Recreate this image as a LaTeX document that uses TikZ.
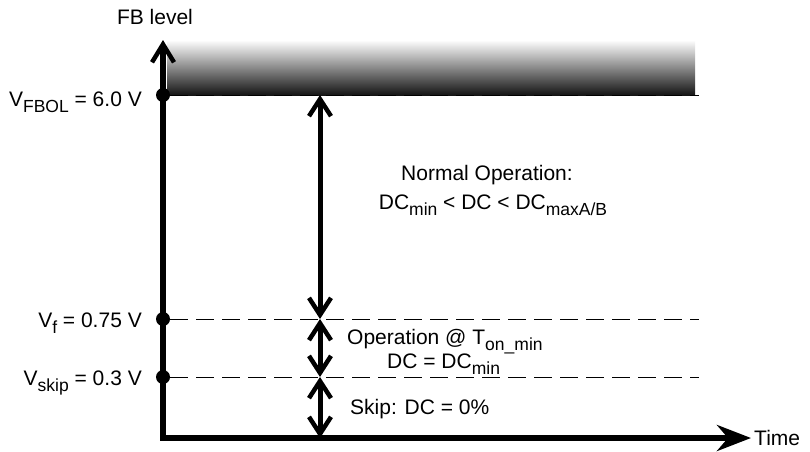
\documentclass[tikz,border=0pt]{standalone}
\usepackage{fontspec}
\setmainfont{Liberation Sans}
\usetikzlibrary{arrows.meta}
\newcommand{\sbs}[1]{\raisebox{-0.3em}{\fontsize{17.5}{17.5}\selectfont #1}}
\begin{document}
\begin{tikzpicture}[x=1pt,y=-1pt,
  lbl/.style={inner sep=0pt,font=\fontsize{21}{24}\selectfont},
  axis/.style={line width=5.5pt},
  dot/.style={circle,fill=black,inner sep=0pt,minimum size=14pt},
  level/.style={line width=1pt,dash pattern=on 18pt off 8pt},
  dbl/.style={line width=5pt,{Straight Barb[length=17pt,width=22pt,line width=4.5pt]}-{Straight Barb[length=17pt,width=22pt,line width=4.5pt]}}
]
\useasboundingbox (0,0) rectangle (810,451);
% gradient band
\shade[top color=white,bottom color=black!92] (167,40) rectangle (695,95);
% coordinates
\coordinate (o) at (163,438);
\coordinate (ytop) at (163,40);
\coordinate (xend) at (751,438);
\coordinate (e1) at (699,95);
\coordinate (e2) at (699,319);
\coordinate (e3) at (699,377);
\coordinate (a0) at (320,95);
\coordinate (a1) at (320,319);
\coordinate (a2) at (320,377);
\coordinate (a3) at (320,438);
% dashed levels
\node[dot] (d1) at (163,95) {};
\node[dot] (d2) at (163,319) {};
\node[dot] (d3) at (163,377) {};
\draw[level] (d1) -- (e1);
\draw[level] (d2) -- (e2);
\draw[level] (d3) -- (e3);
% axes
\draw[axis,-{Straight Barb[length=18pt,width=22pt,line width=4.5pt]}] (o) -- (ytop);
\draw[axis,-{Stealth[length=34pt,width=26pt,inset=11pt]},shorten <=-2.75pt] (o) -- (xend);
% double arrows
\draw[dbl] (a0) -- (a1);
\draw[dbl] (a1) -- (a2);
\draw[dbl] (a2) -- (a3);
% labels
\node[lbl,anchor=base] (fb) at (155,24) {FB level};
\node[lbl,anchor=base west] (time) at (754,445) {Time};
\node[lbl,anchor=base east] (l1) at (142,106) {V\sbs{FBOL} = 6.0 V};
\node[lbl,anchor=base east] (l2) at (142,327) {V\sbs{f} = 0.75 V};
\node[lbl,anchor=base east] (l3) at (142,385) {V\sbs{skip} = 0.3 V};
\node[lbl,anchor=base] (n1) at (487,180) {Normal Operation:};
\node[lbl,anchor=base] (n2) at (493,209) {DC\sbs{min} < DC < DC\sbs{maxA/B}};
\node[lbl,anchor=base west] (o1) at (347,344) {Operation @ T\sbs{on\_min}};
\node[lbl,anchor=base west] (o2) at (387,368) {DC = DC\sbs{min}};
\node[lbl,anchor=base west] (s1) at (350,414) {Skip: DC = 0\%};
\end{tikzpicture}
\end{document}
